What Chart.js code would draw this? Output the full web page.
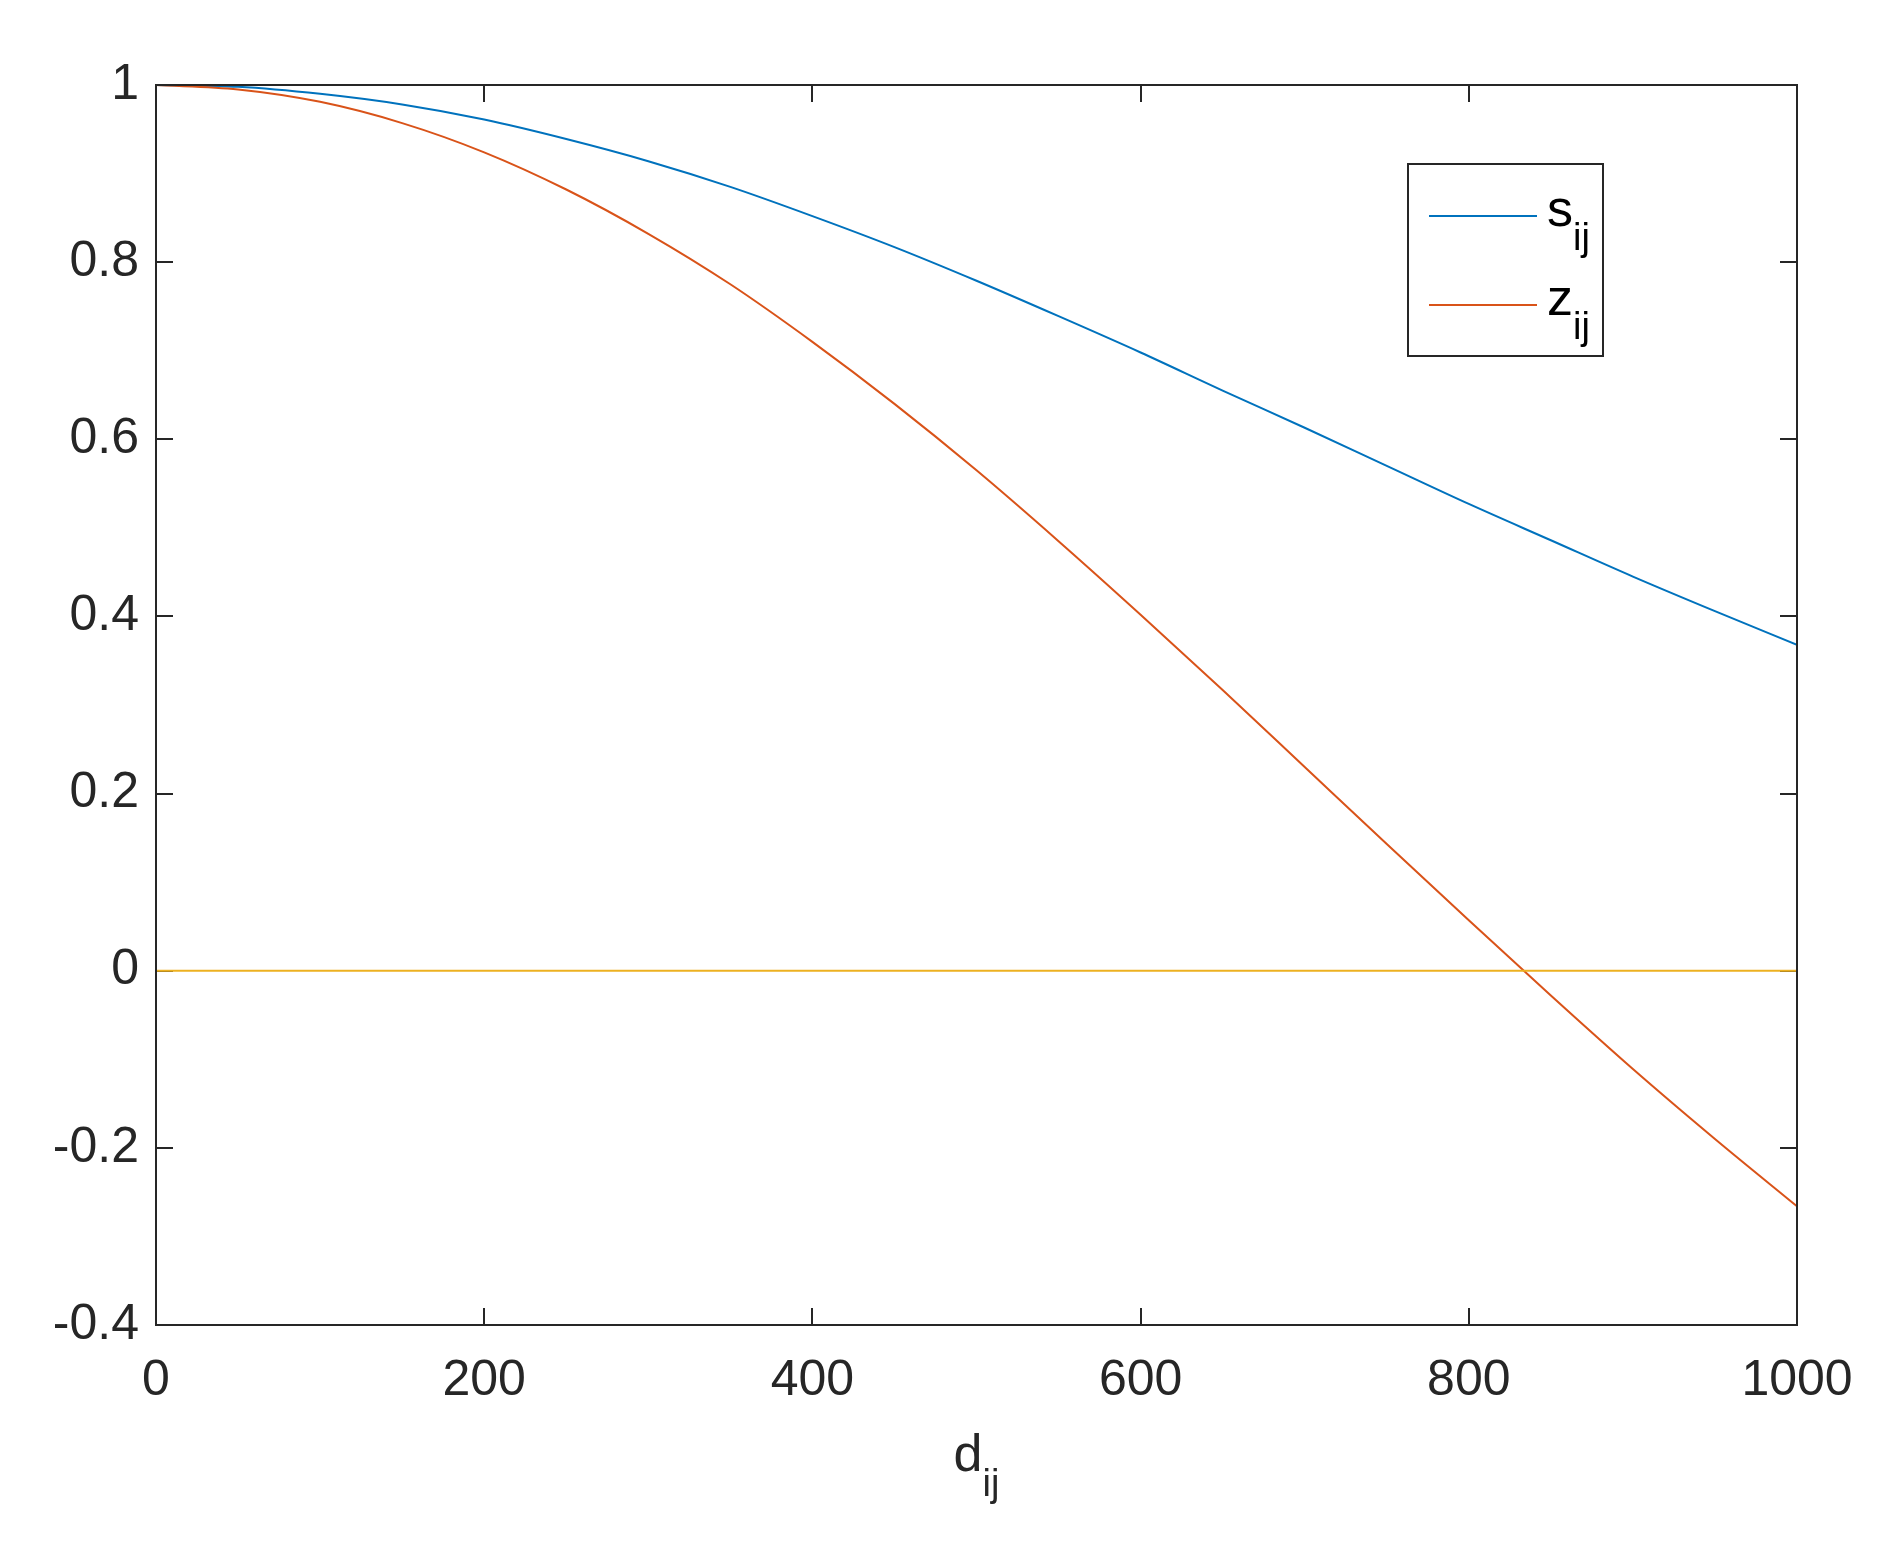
<!DOCTYPE html>
<html>
<head>
<meta charset="utf-8">
<script src="https://cdn.jsdelivr.net/npm/chart.js@4/dist/chart.umd.min.js"></script>
<style>
    html, body { margin: 0; padding: 0; background: #fff; }
    #wrap { width: 1896px; height: 1541px; }
</style>
</head>
<body>
<div id="wrap"><canvas id="distChart" width="1896" height="1541"></canvas></div>
<script>
// значения (шаг 50 по d_ij)
const dValues = [0, 50, 100, 150, 200, 250, 300, 350, 400, 450, 500, 550, 600, 650, 700, 750, 800, 850, 900, 950, 1000];
const sValues = [1.000, 0.998, 0.990, 0.978, 0.961, 0.939, 0.914, 0.885, 0.852, 0.817, 0.779, 0.739, 0.698, 0.655, 0.613, 0.570, 0.527, 0.486, 0.445, 0.406, 0.368];
const zValues = [1.000, 0.995, 0.981, 0.957, 0.924, 0.882, 0.832, 0.775, 0.710, 0.640, 0.565, 0.485, 0.402, 0.317, 0.230, 0.143, 0.057, -0.028, -0.111, -0.190, -0.266];
const zeroX = [0, 1000];
const zeroY = [0, 0];
const xTicks = [0, 200, 400, 600, 800, 1000];
const yTicks = [-0.4, -0.2, 0, 0.2, 0.4, 0.6, 0.8, 1];
const seriesNames = ['s', 'z'];
const seriesSub = 'ij';
const axisName = 'd';

const textColor = '#262626';
const fontFamily = '"Liberation Sans", Arial, Helvetica, sans-serif';

function toPoints(xs, ys) {
    return xs.map((x, i) => ({ x: x, y: ys[i] }));
}

// рамка с внутренними засечками, легенда и подпись оси как в MATLAB
const matlabAxes = {
    id: 'matlabAxes',
    beforeDatasetsDraw(chart) {
        // засечки рисуем под линиями
        const ctx = chart.ctx;
        const a = chart.chartArea;
        const xs = chart.scales.x, ys = chart.scales.y;
        const tl = 17;
        ctx.save();
        ctx.strokeStyle = textColor;
        ctx.lineWidth = 2;
        ctx.beginPath();
        xTicks.forEach((t) => {
            const px = Math.round(xs.getPixelForValue(t));
            ctx.moveTo(px, a.bottom); ctx.lineTo(px, a.bottom - tl);
            ctx.moveTo(px, a.top); ctx.lineTo(px, a.top + tl);
        });
        yTicks.forEach((t) => {
            const py = Math.round(ys.getPixelForValue(t));
            ctx.moveTo(a.left, py); ctx.lineTo(a.left + tl, py);
            ctx.moveTo(a.right, py); ctx.lineTo(a.right - tl, py);
        });
        ctx.stroke();
        ctx.restore();
    },
    afterDatasetsDraw(chart) {
        const ctx = chart.ctx;
        const a = chart.chartArea;
        ctx.save();
        ctx.strokeStyle = textColor;
        ctx.lineWidth = 2;
        ctx.strokeRect(a.left, a.top, a.right - a.left, a.bottom - a.top);

        // легенда
        const box = { x: 1408, y: 164, w: 195, h: 192 };
        ctx.fillStyle = '#fff';
        ctx.fillRect(box.x, box.y, box.w, box.h);
        ctx.strokeRect(box.x, box.y, box.w, box.h);
        const rows = [216, 305];
        chart.data.datasets.slice(0, 2).forEach((ds, i) => {
            ctx.strokeStyle = ds.borderColor;
            ctx.lineWidth = 2;
            ctx.beginPath();
            ctx.moveTo(1429, rows[i]);
            ctx.lineTo(1537, rows[i]);
            ctx.stroke();
            ctx.fillStyle = '#000';
            ctx.textAlign = 'left';
            ctx.textBaseline = 'alphabetic';
            ctx.font = '52px ' + fontFamily;
            ctx.fillText(seriesNames[i], 1547, rows[i] + 10);
            const w = ctx.measureText(seriesNames[i]).width;
            ctx.font = '38px ' + fontFamily;
            ctx.fillText(seriesSub, 1547 + w, rows[i] + 34);
        });

        // подпись оси x
        ctx.fillStyle = textColor;
        ctx.font = '52px ' + fontFamily;
        const wd = ctx.measureText(axisName).width;
        ctx.font = '38px ' + fontFamily;
        const ws = ctx.measureText(seriesSub).width;
        const cx = (a.left + a.right) / 2;
        const start = cx - (wd + ws) / 2;
        ctx.font = '52px ' + fontFamily;
        ctx.fillText(axisName, start, 1471);
        ctx.font = '38px ' + fontFamily;
        ctx.fillText(seriesSub, start + wd, 1496);
        ctx.restore();
    }
};

var ctx = document.getElementById('distChart').getContext('2d');

var distChart = new Chart(ctx, {
    type: 'line',
    data: {
        datasets: [{
            label: 's_ij',
            data: toPoints(dValues, sValues),
            borderColor: '#0072BD',
            borderWidth: 2,
            pointRadius: 0,
            cubicInterpolationMode: 'monotone',
            order: 2
        },
            {
                label: 'z_ij',
                data: toPoints(dValues, zValues),
                borderColor: '#D95319',
                borderWidth: 2,
                pointRadius: 0,
                cubicInterpolationMode: 'monotone',
                order: 1
            },
            {
                label: 'zero',
                data: toPoints(zeroX, zeroY),
                borderColor: '#EDB120',
                borderWidth: 2,
                pointRadius: 0,
                order: 0
            }]
    },
    options: {
        responsive: false,
        animation: false,
        devicePixelRatio: 1,
        layout: { padding: { top: 85, right: 99, left: 0, bottom: 0 } },
        plugins: {
            legend: { display: false },
            tooltip: { enabled: false }
        },
        scales: {
            x: {
                type: 'linear',
                min: 0,
                max: 1000,
                afterFit: function(scale) { scale.height = 216; },
                afterBuildTicks: function(scale) { scale.ticks = xTicks.map((v) => ({ value: v })); },
                grid: { display: false, drawTicks: false },
                border: { display: false },
                ticks: {
                    autoSkip: false,
                    maxRotation: 0,
                    padding: 26,
                    color: textColor,
                    font: { family: fontFamily, size: 50 },
                    callback: function(v) { return String(v); }
                }
            },
            y: {
                type: 'linear',
                min: -0.4,
                max: 1,
                afterFit: function(scale) { scale.width = 156; },
                afterBuildTicks: function(scale) { scale.ticks = yTicks.map((v) => ({ value: v })); },
                grid: { display: false, drawTicks: false },
                border: { display: false },
                ticks: {
                    autoSkip: false,
                    padding: 17,
                    color: textColor,
                    font: { family: fontFamily, size: 50 },
                    callback: function(v) { return String(Math.round(v * 10) / 10); }
                }
            }
        }
    },
    plugins: [matlabAxes]
});
</script>
</body>
</html>
